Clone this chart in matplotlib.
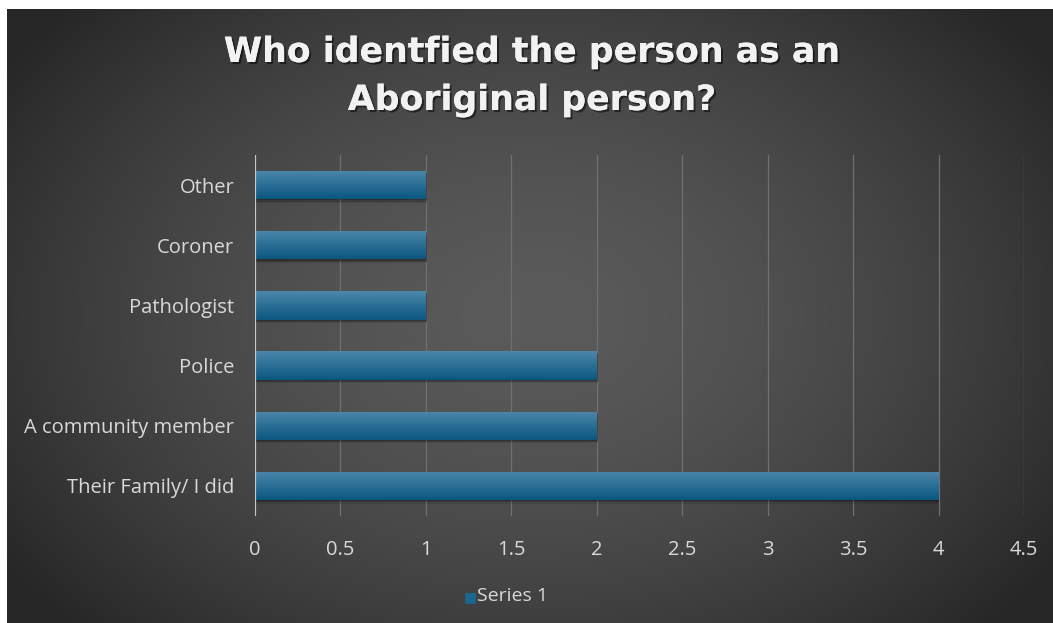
import numpy as np
import matplotlib.pyplot as plt
from matplotlib.patches import Rectangle
import matplotlib.patheffects as pe

categories = ["Their Family/ I did", "A community member", "Police",
              "Pathologist", "Coroner", "Other"]
values = [4, 2, 2, 1, 1, 1]
xticks = [0, 0.5, 1, 1.5, 2, 2.5, 3, 3.5, 4, 4.5]
xtick_labels = ["0", "0.5", "1", "1.5", "2", "2.5", "3", "3.5", "4", "4.5"]
title_lines = ["Who identfied the person as an", "Aboriginal person?"]
series_name = "Series 1"

W, H = 1053, 623
fig = plt.figure(figsize=(W / 100, H / 100), dpi=100)
fig.patch.set_facecolor("white")

# radial gradient background (white margin top/left like the screenshot)
bg = fig.add_axes([7 / W, 0, 1 - 7 / W, 1 - 9 / H])
yy, xx = np.mgrid[0:1:300j, 0:1:500j]
r = np.sqrt(((xx - 0.5) / 0.62) ** 2 + ((yy - 0.5) / 0.75) ** 2)
shade = np.clip(0.355 - 0.21 * r ** 1.6, 0.15, 0.36)
img = np.dstack([shade, shade, shade])
bg.imshow(img, aspect="auto", extent=[0, 1, 0, 1], interpolation="bicubic")
bg.set_axis_off()

shadow = [pe.withSimplePatchShadow(offset=(1.5, -1.5), shadow_rgbFace="black", alpha=0.5),
          pe.Normal()]
for line, ypix in zip(title_lines, [52, 100]):
    fig.text(532 / W, 1 - ypix / H, line, ha="center", va="center",
             fontsize=25, fontweight="bold", color="#f2f2f2",
             family="DejaVu Sans", path_effects=shadow)

ax = fig.add_axes([255 / W, 1 - 516 / H, (1024 - 255) / W, (516 - 155) / H])
ax.set_facecolor("none")

for x in xticks[1:]:
    ax.axvline(x, color="#707070", lw=0.9, zorder=1)

ypos = np.arange(len(categories))
bar_h = 0.47
grad = np.linspace(0, 1, 64).reshape(-1, 1, 1)
top = np.array([0.30, 0.53, 0.67])
bot = np.array([0.04, 0.34, 0.50])
cols = top + (bot - top) * grad
for y, v in zip(ypos, values):
    # soft shadow under each bar
    for k, a in [(0.06, 0.10), (0.04, 0.15), (0.02, 0.2)]:
        ax.add_patch(Rectangle((0.005, y - bar_h / 2 - k), v, bar_h, color="black",
                               alpha=a, lw=0, zorder=2))
    rect = Rectangle((0, y - bar_h / 2), v, bar_h, facecolor="#1a6890",
                     lw=0, zorder=3)
    ax.add_patch(rect)
    im = ax.imshow(cols, extent=[0, v, y - bar_h / 2, y + bar_h / 2],
                   aspect="auto", zorder=4, origin="upper", interpolation="bicubic")
    im.set_clip_path(rect)

ax.set_xlim(0, 4.5)
ax.set_ylim(-0.5, len(categories) - 0.5)
ax.axvline(0, color="#c8c8c8", lw=1.6, zorder=5)

ax.set_yticks(ypos)
ax.set_yticklabels(categories)
ax.set_xticks(xticks)
ax.set_xticklabels(xtick_labels)
ax.tick_params(length=0, labelsize=14.5, labelcolor="#d9d9d9")
for lab in ax.get_xticklabels() + ax.get_yticklabels():
    lab.set_family("Open Sans")
ax.tick_params(axis="x", pad=17)
ax.tick_params(axis="y", pad=15)
for s in ax.spines.values():
    s.set_visible(False)

fig.text(464 / W, 1 - 597 / H, "\u25A0", ha="left", va="center", fontsize=10,
         color="#1a6890", family="DejaVu Sans")
fig.text(477 / W, 1 - 596 / H, series_name, ha="left", va="center",
         fontsize=14, color="#d9d9d9", family="Open Sans")

fig.savefig("out.png", dpi=100, facecolor=fig.get_facecolor())
